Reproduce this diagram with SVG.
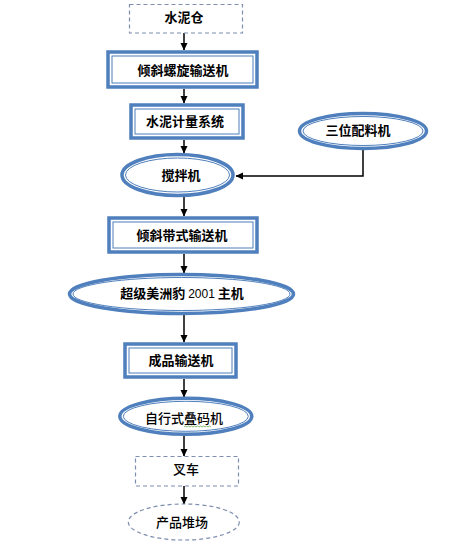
<svg xmlns="http://www.w3.org/2000/svg" width="451" height="550" viewBox="0 0 451 550">
<defs>
<marker id="arr" markerWidth="8" markerHeight="8" refX="7" refY="4" orient="auto" markerUnits="userSpaceOnUse">
<path d="M0,0.5 L7.5,4 L0,7.5 Z" fill="#000"/>
</marker>
<style>
.bg{fill:#fff}
.o{fill:#fff;stroke:#4f7fbc;stroke-width:3.5}
.i{fill:none;stroke:#4f7fbc;stroke-width:1}
.d{fill:#fff;stroke:#7d8eae;stroke-width:1.2;stroke-dasharray:4 3}
.t{font-family:"Noto Sans CJK SC","Liberation Sans",sans-serif;font-size:13px;fill:#000;text-anchor:middle}
.b{font-weight:bold}
.m{font-weight:500}
.c{fill:none;stroke:#000;stroke-width:1.5}
</style>
</defs>
<rect class="bg" x="0" y="0" width="451" height="550"/>
<g id="connectors">
<line class="c" x1="184" y1="33" x2="184" y2="50" marker-end="url(#arr)"/>
<line class="c" x1="184" y1="89" x2="184" y2="103" marker-end="url(#arr)"/>
<line class="c" x1="184" y1="140" x2="184" y2="153" marker-end="url(#arr)"/>
<line class="c" x1="184" y1="197" x2="184" y2="216" marker-end="url(#arr)"/>
<line class="c" x1="184" y1="254" x2="184" y2="273" marker-end="url(#arr)"/>
<line class="c" x1="184" y1="315" x2="184" y2="342" marker-end="url(#arr)"/>
<line class="c" x1="184" y1="379" x2="184" y2="397" marker-end="url(#arr)"/>
<line class="c" x1="184" y1="436" x2="184" y2="456" marker-end="url(#arr)"/>
<line class="c" x1="184" y1="486" x2="184" y2="504" marker-end="url(#arr)"/>
<polyline class="c" points="363,149 363,176 236,176" marker-end="url(#arr)"/>
</g>
<g id="n1">
<rect class="d" x="129.5" y="4.5" width="113" height="28.5"/>
<text class="t b" x="184" y="22">水泥仓</text>
</g>
<g id="n2">
<rect class="o" x="108" y="52" width="149" height="35"/>
<rect class="i" x="112" y="56" width="141" height="27"/>
<text class="t b" x="183" y="74.5">倾斜螺旋输送机</text>
</g>
<g id="n3">
<rect class="o" x="131" y="105" width="112" height="33"/>
<rect class="i" x="135" y="109" width="104" height="25"/>
<text class="t b" x="185" y="125.5">水泥计量系统</text>
</g>
<g id="n4">
<ellipse class="o" cx="177.5" cy="175" rx="55.5" ry="20.5"/>
<ellipse class="i" cx="177.5" cy="175" rx="52" ry="17"/>
<text class="t b" x="181" y="179.5">搅拌机</text>
</g>
<g id="n5">
<ellipse class="o" cx="363" cy="131" rx="63.5" ry="17.5"/>
<ellipse class="i" cx="363" cy="131" rx="60" ry="14.5"/>
<text class="t b" x="358" y="135">三位配料机</text>
</g>
<g id="n6">
<rect class="o" x="109" y="218" width="148" height="34"/>
<rect class="i" x="113" y="222" width="140" height="26"/>
<text class="t b" x="182" y="239.5">倾斜带式输送机</text>
</g>
<g id="n7">
<ellipse class="o" cx="181.5" cy="294" rx="112" ry="19.5"/>
<ellipse class="i" cx="181.5" cy="294" rx="108.5" ry="16.5"/>
<text class="t b" x="182" y="298">超级美洲豹 <tspan font-family="Liberation Sans,sans-serif" font-size="12" font-weight="normal">2001</tspan> 主机</text>
</g>
<g id="n8">
<rect class="o" x="125" y="344" width="111" height="33"/>
<rect class="i" x="129" y="348" width="103" height="25"/>
<text class="t b" x="181" y="364.5">成品输送机</text>
</g>
<g id="n9">
<ellipse class="o" cx="185.8" cy="416.3" rx="66" ry="18"/>
<ellipse class="i" cx="185.8" cy="416.3" rx="62.5" ry="15"/>
<text class="t m" x="184" y="423">自行式叠码机</text>
<path d="M184,427 l1.5,-1 l1.5,1 l1.5,-1 l1.5,1 l1.5,-1 l1.5,1 l1.5,-1 l1.5,1 l1.5,-1 l1.5,1 l1.5,-1 l1.5,1 l1.5,-1 l1.5,1 l1.5,-1 l1.5,1 l1.5,-1 l1.5,1" fill="none" stroke="#6aa84f" stroke-width="0.8"/>
</g>
<g id="n10">
<rect class="d" x="135.5" y="456.5" width="103" height="29.5"/>
<text class="t m" x="186" y="473.5">叉车</text>
</g>
<g id="n11">
<ellipse class="d" cx="183.8" cy="522" rx="55.5" ry="18"/>
<text class="t m" x="182" y="526.5">产品堆场</text>
</g>
</svg>
